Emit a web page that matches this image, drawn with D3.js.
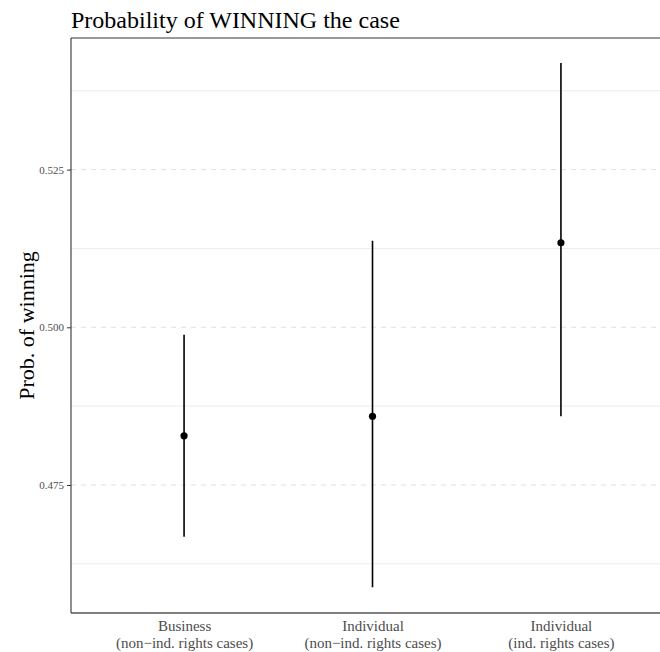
<!DOCTYPE html>
<html><head><meta charset="utf-8">
<script src="https://cdn.jsdelivr.net/npm/d3@7"></script>
<style>body{margin:0;background:#fff}svg{display:block}</style>
</head><body><div id="chart"></div>
<script>
const categories = ["Business\n(non\u2212ind. rights cases)", "Individual\n(non\u2212ind. rights cases)", "Individual\n(ind. rights cases)"];
const estimates = [0.4828, 0.4859, 0.5134];
const lower = [0.4668, 0.4588, 0.4859];
const upper = [0.4988, 0.5137, 0.5419];
const majorTicks = [0.475, 0.500, 0.525];
const minorTicks = [0.4625, 0.4875, 0.5125, 0.5375];
const tickLabels = ["0.475", "0.500", "0.525"];

const W = 660, H = 652;
const L = 71, T = 38, B = 613, R = 674;
const svg = d3.select("#chart").append("svg").attr("width", W).attr("height", H);
const font = "'Liberation Serif', 'Times New Roman', serif";

const y = d3.scaleLinear().domain([0.45471, 0.54586]).range([B, T]);
const x = d3.scalePoint().domain(categories).range([L, R]).padding(0.6);

// minor gridlines
svg.append("g").selectAll("line").data(minorTicks).join("line")
  .attr("x1", L).attr("x2", R).attr("y1", d => y(d)).attr("y2", d => y(d))
  .attr("stroke", "#ebebeb").attr("stroke-width", 1);
// major gridlines dashed
svg.append("g").selectAll("line").data(majorTicks).join("line")
  .attr("x1", L).attr("x2", R).attr("y1", d => y(d)).attr("y2", d => y(d))
  .attr("stroke", "#e0e0e0").attr("stroke-width", 1).attr("stroke-dasharray", "5,5");

// top border
svg.append("line").attr("x1", L).attr("x2", R).attr("y1", T).attr("y2", T)
  .attr("stroke", "#333").attr("stroke-width", 1);

// y axis
const yAxis = d3.axisLeft(y).tickValues(majorTicks).tickSize(4).tickPadding(3)
  .tickFormat((d, i) => tickLabels[i]);
const gy = svg.append("g").attr("transform", `translate(${L},0)`).call(yAxis);
gy.select(".domain").attr("stroke", "#333").attr("stroke-width", 1.1).attr("d", `M0,${T}V${B}`);
gy.selectAll(".tick line").attr("stroke", "#333");
gy.selectAll(".tick text").attr("fill", "#4d4d4d").style("font-family", font).style("font-size", "11px");

// x axis
const xAxis = d3.axisBottom(x).tickSize(0).tickFormat("");
const gx = svg.append("g").attr("transform", `translate(0,${B})`).call(xAxis);
gx.select(".domain").attr("stroke", "#555").attr("stroke-width", 1.5).attr("d", `M${L},0H${R}`);
gx.selectAll(".tick").each(function(d) {
  const lines = d.split("\n");
  const t = d3.select(this).append("text").attr("fill", "#4d4d4d")
    .attr("text-anchor", "middle").style("font-family", font).style("font-size", "15px");
  lines.forEach((ln, i) => t.append("tspan").attr("x", 0).attr("y", 18 + i * 17).text(ln));
});

// error bars
const data = categories.map((c, i) => ({c, e: estimates[i], lo: lower[i], hi: upper[i]}));
svg.append("g").selectAll("line").data(data).join("line")
  .attr("x1", d => x(d.c)).attr("x2", d => x(d.c))
  .attr("y1", d => y(d.lo)).attr("y2", d => y(d.hi))
  .attr("stroke", "#000").attr("stroke-width", 1.6);
svg.append("g").selectAll("circle").data(data).join("circle")
  .attr("cx", d => x(d.c)).attr("cy", d => y(d.e)).attr("r", 3.6).attr("fill", "#000");

// title
svg.append("text").attr("x", L).attr("y", 28).text("Probability of WINNING the case")
  .style("font-family", font).style("font-size", "24px").attr("fill", "#000");

// y label
svg.append("text").attr("transform", `translate(34,${(T + B) / 2}) rotate(-90)`)
  .attr("text-anchor", "middle").text("Prob. of winning")
  .style("font-family", font).style("font-size", "22px").attr("fill", "#000");
</script></body></html>
